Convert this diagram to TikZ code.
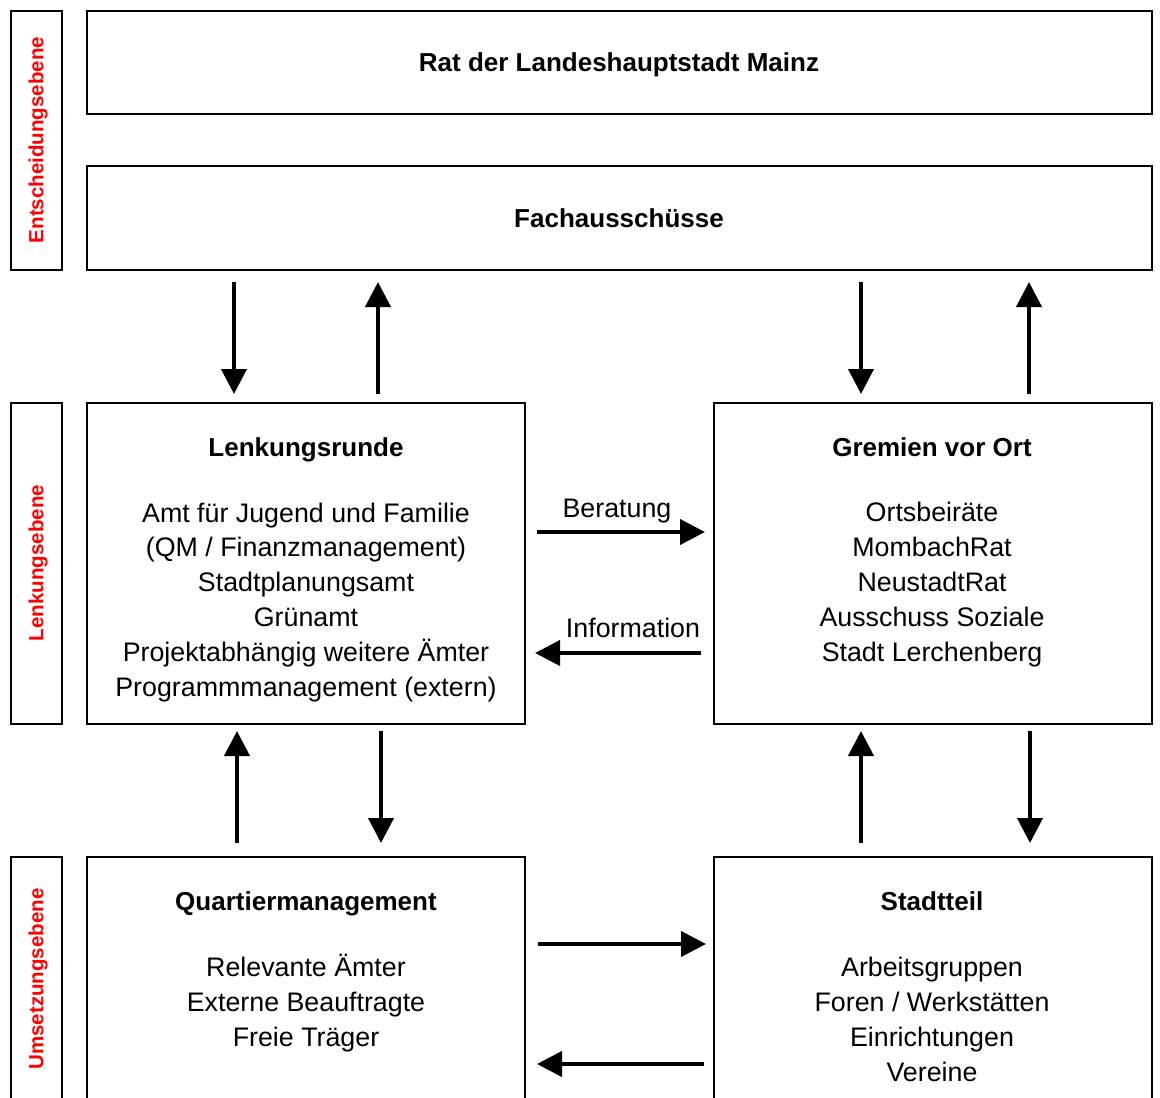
\documentclass[tikz,border=0pt]{standalone}
\usepackage{fontspec}
\setmainfont{Liberation Sans}
\usetikzlibrary{arrows.meta}
\begin{document}
\begin{tikzpicture}[x=1pt,y=-1pt,
  box/.style={draw, line width=2.6pt, anchor=north west, inner sep=0pt, outer sep=0pt},
  lvl/.style={box, minimum width=51pt},
  wide/.style={box, minimum width=1065pt, minimum height=104pt},
  half/.style={box, minimum width=438pt},
  arr/.style={line width=4pt, -{Triangle[length=25pt,width=25pt]}},
  ttl/.style={font=\fontsize{26}{35}\selectfont\bfseries, anchor=base, inner sep=0pt},
  body/.style={font=\fontsize{26.8}{34.8}\selectfont, align=center, anchor=base, inner sep=0pt},
  lab/.style={font=\fontsize{26.8}{35}\selectfont, anchor=base, inner sep=0pt},
  side/.style={font=\fontsize{20.5}{24}\selectfont\bfseries, text=red, rotate=90, inner sep=0pt}]
\clip (0,0) rectangle (1160,1098);
% level boxes
\node[lvl, minimum height=259pt] (l1) at (11,11) {};
\node[lvl, minimum height=321pt] (l2) at (11,403) {};
\node[lvl, minimum height=300pt] (l3) at (11,857) {};
\node[side] (s1) at (38,140) {Entscheidungsebene};
\node[side] (s2) at (38,563) {Lenkungsebene};
\node[side] (s3) at (38,979) {Umsetzungsebene};
% main boxes
\node[wide, minimum height=103pt] (rat) at (87,11) {};
\node[wide] (fach) at (87,166) {};
\node[half, minimum height=321pt] (lenk) at (87,403) {};
\node[half, minimum height=321pt] (grem) at (714,403) {};
\node[half, minimum height=300pt] (quart) at (87,857) {};
\node[half, minimum height=300pt] (stadt) at (714,857) {};
% titles
\node[ttl] (tRat) at (619,71) {Rat der Landeshauptstadt Mainz};
\node[ttl] (tFach) at (619,227) {Fachausschüsse};
\node[ttl] (tLenk) at (306,456) {Lenkungsrunde};
\node[ttl] (tGrem) at (932,456) {Gremien vor Ort};
\node[ttl] (tQuart) at (306,910) {Quartiermanagement};
\node[ttl] (tStadt) at (932,910) {Stadtteil};
% bodies (base anchor = last line)
\node[body] (bLenk) at (306,696) {Amt für Jugend und Familie\\(QM / Finanzmanagement)\\Stadtplanungsamt\\Grünamt\\Projektabhängig weitere Ämter\\Programmmanagement (extern)};
\node[body] (bGrem) at (932,661) {Ortsbeiräte\\MombachRat\\NeustadtRat\\Ausschuss Soziale\\Stadt Lerchenberg};
\node[body] (bQuart) at (306,1046) {Relevante Ämter\\Externe Beauftragte\\Freie Träger};
\node[body] (bStadt) at (932,1081) {Arbeitsgruppen\\Foren / Werkstätten\\Einrichtungen\\Vereine};
% vertical arrows top
\draw[arr] ([xshift=147pt,yshift=-12pt]fach.south west) -- ([xshift=147pt,yshift=9pt]lenk.north west);
\draw[arr] ([xshift=291pt,yshift=9pt]lenk.north west) -- ([xshift=291pt,yshift=-12pt]fach.south west);
\draw[arr] ([xshift=774pt,yshift=-12pt]fach.south west) -- ([xshift=147pt,yshift=9pt]grem.north west);
\draw[arr] ([xshift=315pt,yshift=9pt]grem.north west) -- ([xshift=942pt,yshift=-12pt]fach.south west);
% vertical arrows bottom
\draw[arr] ([xshift=150pt,yshift=14pt]quart.north west) -- ([xshift=150pt,yshift=-7pt]lenk.south west);
\draw[arr] ([xshift=294pt,yshift=-7pt]lenk.south west) -- ([xshift=294pt,yshift=14pt]quart.north west);
\draw[arr] ([xshift=147pt,yshift=14pt]stadt.north west) -- ([xshift=147pt,yshift=-7pt]grem.south west);
\draw[arr] ([xshift=316pt,yshift=-7pt]grem.south west) -- ([xshift=316pt,yshift=14pt]stadt.north west);
% horizontal arrows
\draw[arr] ([xshift=12pt,yshift=-129pt]lenk.north east) -- ([xshift=-9pt,yshift=-129pt]grem.north west);
\draw[arr] ([xshift=-13pt,yshift=-250pt]grem.north west) -- ([xshift=10pt,yshift=-250pt]lenk.north east);
\draw[arr] ([xshift=13pt,yshift=-87pt]quart.north east) -- ([xshift=-8pt,yshift=-87pt]stadt.north west);
\draw[arr] ([xshift=-10pt,yshift=-207pt]stadt.north west) -- ([xshift=12pt,yshift=-207pt]quart.north east);
\node[lab] (beratung) at (617,517) {Beratung};
\node[lab] (information) at (633,637) {Information};
\end{tikzpicture}
\end{document}
